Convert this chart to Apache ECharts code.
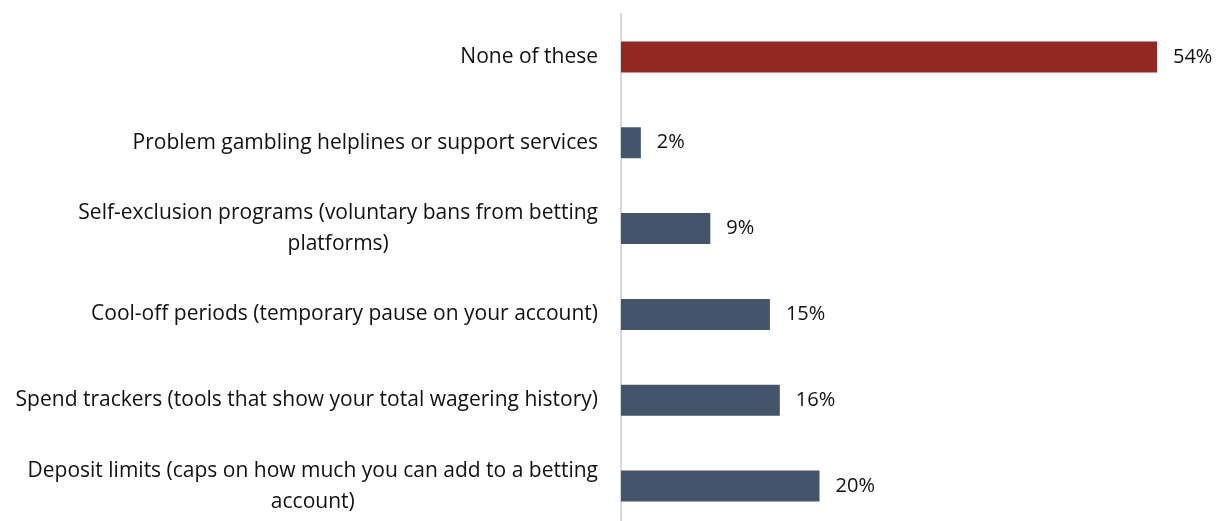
<!DOCTYPE html>
<html>
<head>
<meta charset="utf-8">
<script src="https://cdn.jsdelivr.net/npm/echarts@6/dist/echarts.min.js"></script>
<style>
  html, body { margin: 0; padding: 0; background: #ffffff; overflow: hidden; }
  #chart { width: 1217px; height: 529px; }
</style>
</head>
<body>
<div id="chart"></div>
<script>
// Survey options, listed top to bottom (labels may contain a line break)
const categories = [
  'None of these',
  'Problem gambling helplines or support services',
  'Self-exclusion programs (voluntary bans from betting\nplatforms)',
  'Cool-off periods (temporary pause on your account)',
  'Spend trackers (tools that show your total wagering history)',
  'Deposit limits (caps on how much you can add to a betting\naccount)'
];
// Share of respondents, percent
const values = [54, 2, 9, 15, 16, 20];
const highlightCategory = 'None of these';

const FONT = '"Open Sans", Lato, sans-serif';
const TEXT_COLOR = '#111111';
const BAR_COLOR = '#44546a';
const HIGHLIGHT_COLOR = '#922822';

const seriesData = categories.map((c, i) => ({
  value: values[i],
  itemStyle: { color: c === highlightCategory ? HIGHLIGHT_COLOR : BAR_COLOR }
}));

const chart = echarts.init(document.getElementById('chart'), null, { renderer: 'canvas' });
chart.setOption({
  animation: false,
  backgroundColor: '#ffffff',
  grid: { left: 621, right: 60, top: 14, bottom: 0, containLabel: false },
  xAxis: {
    type: 'value',
    min: 0,
    max: 54,
    show: false,
    splitLine: { show: false }
  },
  yAxis: {
    type: 'category',
    data: categories,
    inverse: true,
    axisLine: { show: true, lineStyle: { color: '#d9d9d9', width: 2 } },
    axisTick: { show: false },
    axisLabel: {
      margin: 23,
      align: 'right',
      formatter: v => v.split('\n').map(l => '{t|' + l + '}').join('\n'),
      rich: {
        t: {
          fontFamily: FONT,
          fontSize: 21,
          color: TEXT_COLOR,
          lineHeight: 31,
          align: 'center'
        }
      }
    }
  },
  series: [{
    type: 'bar',
    data: seriesData,
    barWidth: 31,
    label: {
      show: true,
      position: 'right',
      distance: 16,
      formatter: p => p.value + '%',
      fontFamily: FONT,
      fontSize: 20,
      color: TEXT_COLOR
    }
  }]
});
</script>
</body>
</html>
